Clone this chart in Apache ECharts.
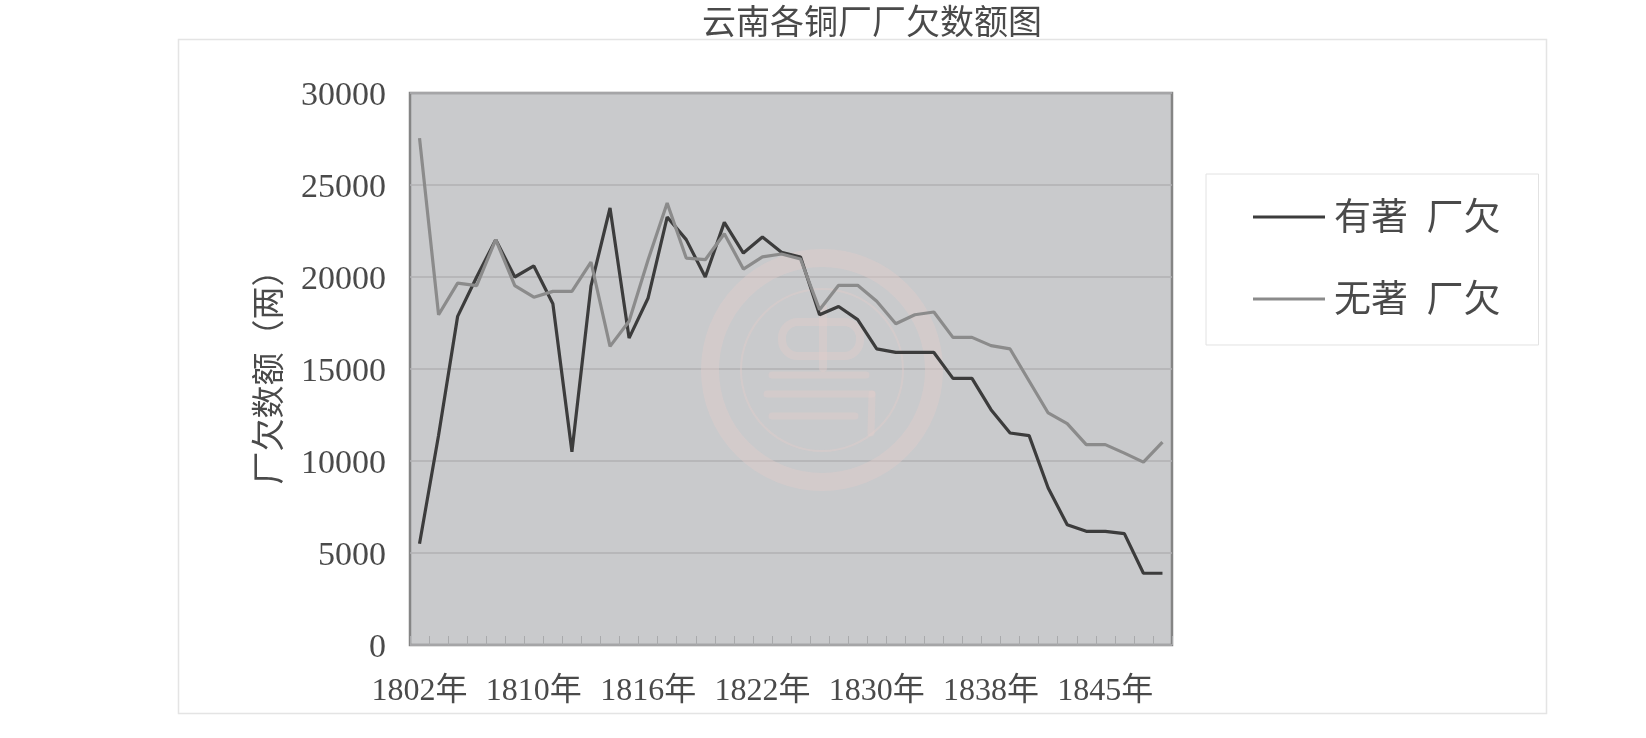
<!DOCTYPE html>
<html>
<head>
<meta charset="utf-8">
<style>html,body{margin:0;padding:0;background:#fff}#c{width:1646px;height:738px}</style>
<script src="https://cdn.jsdelivr.net/npm/echarts@6/dist/echarts.min.js"></script>
</head>
<body>
<div id="c"></div>
<script>
const chartTitle = '云南各铜厂厂欠数额图';
const yAxisName = '厂欠数额（两）';
const categories = ['1802年','1803年','1804年','1805年','1806年','1807年','1810年','1811年','1812年','1813年','1814年','1815年','1816年','1817年','1818年','1819年','1820年','1821年','1822年','1823年','1824年','1825年','1826年','1827年','1830年','1831年','1832年','1833年','1834年','1835年','1838年','1839年','1840年','1841年','1842年','1843年','1845年','1846年','1847年','1848年'];
const seriesNames = ['有著  厂欠','无著  厂欠'];
const youzhu = [5500,11400,17860,20000,22030,20000,20600,18550,10500,19500,23750,16680,18860,23260,22030,20000,22970,21300,22170,21340,21090,17950,18400,17680,16090,15900,15900,15900,14490,14490,12790,11520,11380,8530,6540,6180,6180,6050,3900,3900];
const wuzhu = [27550,17950,19670,19530,22030,19530,18900,19220,19220,20815,16230,17590,20940,24020,21030,20940,22350,20430,21090,21250,20980,18220,19550,19550,18680,17460,17950,18100,16720,16720,16270,16090,14350,12610,12030,10890,10890,10430,9940,11030];

const SERIF = '"Liberation Serif","Noto Sans CJK SC",serif';
const TXT = '#4a4a4a';
const PINK = 'rgba(226,206,202,0.42)';
const stroke = (shape, w) => ({type:'line', silent:true, z:1, shape, style:{stroke:PINK, lineWidth:w, lineCap:'round', fill:null}});

const chart = echarts.init(document.getElementById('c'), null, {renderer:'canvas'});
chart.setOption({
  animation:false,
  backgroundColor:'#fff',
  title:{text:chartTitle, left:867, textAlign:'center', top:3, textStyle:{fontFamily:SERIF, fontSize:34, fontWeight:'normal', color:TXT}},
  grid:{left:410, top:93, width:762, height:552, show:true, backgroundColor:'#c9cacc', borderColor:'#858585', borderWidth:2.5},
  legend:{
    orient:'vertical', left:1206, top:174, padding:[28,38,24,47], itemWidth:72, itemHeight:3, itemGap:45, icon:'rect',
    borderColor:'#e2e2e2', borderWidth:1, backgroundColor:'#fff',
    formatter:(n)=>'{a|'+n+'}',
    textStyle:{rich:{a:{fontFamily:SERIF, fontSize:37, color:TXT, padding:[7,0,0,4]}}}
  },
  xAxis:{
    type:'category', data:categories, boundaryGap:true,
    axisLine:{show:false},
    axisTick:{show:true, inside:true, length:9, interval:0, lineStyle:{color:'#a9aaac', width:1}},
    axisLabel:{interval:5, margin:31, fontFamily:SERIF, fontSize:32, color:TXT, hideOverlap:false},
    splitLine:{show:false}
  },
  yAxis:{
    type:'value', min:0, max:30000, interval:5000,
    name:yAxisName, nameLocation:'middle', nameGap:122, nameRotate:90,
    nameTextStyle:{fontFamily:SERIF, fontSize:33, color:TXT},
    axisLine:{show:false}, axisTick:{show:false},
    axisLabel:{margin:24, formatter:(v)=>'{a|'+v+'}', rich:{a:{fontFamily:SERIF, fontSize:34, color:TXT, padding:[7,0,0,0]}}},
    splitLine:{show:true, lineStyle:{color:'#b0b1b3', width:1.5}}
  },
  graphic:[
    {type:'rect', silent:true, z:-1, shape:{x:178.5,y:39.5,width:1368,height:674}, style:{fill:'#fff', stroke:'#e4e4e4', lineWidth:1.5}},
    {type:'circle', silent:true, z:1, shape:{cx:822,cy:370,r:112}, style:{fill:null, stroke:PINK, lineWidth:18}},
    {type:'circle', silent:true, z:1, shape:{cx:822,cy:370,r:81}, style:{fill:null, stroke:PINK, lineWidth:2}},
    {type:'rect', silent:true, z:1, shape:{x:782,y:322,width:78,height:34,r:16}, style:{fill:null, stroke:PINK, lineWidth:8}},
    stroke({x1:823,y1:308,x2:823,y2:368},8),
    stroke({x1:772,y1:375,x2:866,y2:375},7),
    stroke({x1:767,y1:394,x2:872,y2:394},7),
    stroke({x1:772,y1:416,x2:855,y2:416},7),
    stroke({x1:872,y1:394,x2:871,y2:433},7)
  ],
  series:[
    {name:seriesNames[0], type:'line', data:youzhu, symbol:'none', z:3, lineStyle:{color:'#3c3c3c', width:3.2}, itemStyle:{color:'#3c3c3c'}},
    {name:seriesNames[1], type:'line', data:wuzhu, symbol:'none', z:4, lineStyle:{color:'#8b8b8b', width:3.2}, itemStyle:{color:'#8b8b8b'}}
  ]
});
</script>
</body>
</html>
